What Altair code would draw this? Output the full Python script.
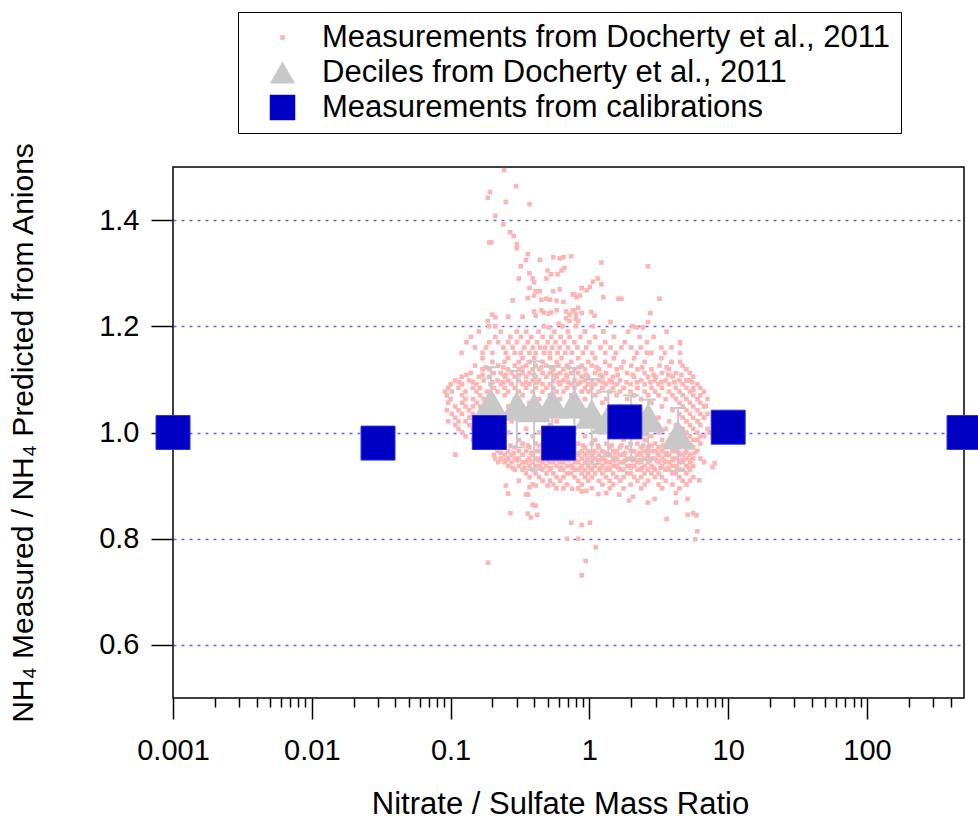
import altair as alt
import pandas as pd

# ---------------------------------------------------------------- data
SERIES = ["Measurements from Docherty et al., 2011",
          "Deciles from Docherty et al., 2011",
          "Measurements from calibrations"]

# calibration measurements (blue squares)
cal_ratio = [0.001, 0.03, 0.19, 0.6, 1.8, 10, 500]
cal_nh4 = [1.0, 0.98, 1.0, 0.98, 1.02, 1.01, 1.0]

# deciles (grey triangles) with their spread
dec_ratio = [0.195, 0.30, 0.40, 0.54, 0.78, 1.04, 1.37, 2.0, 2.65, 4.35]
dec_nh4 = [1.056, 1.05, 1.047, 1.054, 1.054, 1.035, 1.025, 1.02, 1.028, 0.996]
dec_lo = [0.972, 0.972, 0.93, 0.955, 0.96, 0.941, 0.955, 0.948, 0.948, 0.928]
dec_hi = [1.123, 1.116, 1.134, 1.125, 1.122, 1.10, 1.077, 1.07, 1.062, 1.046]

# Docherty et al. measurements: dense part read row by row (y, x values)
cloud_row_y = [1.19, 1.18, 1.17, 1.16, 1.15, 1.14, 1.133, 1.126, 1.1225, 1.119,
               1.112, 1.1085, 1.105, 1.098, 1.0945, 1.091, 1.084, 1.077, 1.07,
               1.063, 1.056, 1.049, 1.042, 1.035, 1.028, 1.021, 1.014, 1.007,
               1.0, 0.993, 0.986, 0.979, 0.9755, 0.972, 0.965, 0.9615, 0.958,
               0.951, 0.9475, 0.944, 0.937, 0.9335, 0.93, 0.923, 0.916, 0.909,
               0.902, 0.895]
cloud_row_x = [
    [0.16, 0.23, 0.30, 0.35, 0.43, 0.56, 0.70, 0.93, 1.26, 1.9, 3.6],
    [0.14, 0.21, 0.27, 0.32, 0.38, 0.46, 0.53, 0.62, 0.72, 0.86, 1.1, 1.5, 2.3, 2.9],
    [0.13, 0.19, 0.22, 0.26, 0.30, 0.36, 0.42, 0.50, 0.57, 0.66, 0.78, 1.0, 1.3, 1.8, 2.6, 4.5],
    [0.15, 0.18, 0.24, 0.28, 0.34, 0.39, 0.44, 0.48, 0.54, 0.61, 0.70, 0.82, 0.95, 1.2, 1.42, 1.7, 2.0, 2.35, 3.3, 3.9],
    [0.12, 0.17, 0.20, 0.25, 0.29, 0.32, 0.37, 0.41, 0.47, 0.52, 0.59, 0.67, 0.75, 0.90, 1.05, 1.3, 1.55, 2.2, 2.6, 2.8, 3.5, 4.5],
    [0.17, 0.26, 0.33, 0.40, 0.52, 0.63, 0.83, 1.1, 1.5, 2.1, 3.3],
    [0.20, 0.245, 0.31, 0.37, 0.46, 0.58, 0.74, 0.98, 1.3, 1.76, 2.5, 3.9, 4.5],
    [0.15, 0.22, 0.29, 0.35, 0.41, 0.49, 0.6, 0.69, 0.88, 1.04, 1.4, 2.0, 3.2, 4.7],
    [0.18, 0.24, 0.33, 0.45, 0.53, 0.71, 0.84, 1.13, 1.7, 2.4, 3.6],
    [0.17, 0.19, 0.26, 0.31, 0.39, 0.435, 0.55, 0.65, 0.78, 0.93, 1.17, 1.57, 2.22, 2.8, 3.75, 5.0],
    [0.14, 0.205, 0.23, 0.275, 0.33, 0.37, 0.46, 0.52, 0.615, 0.74, 0.83, 1.1, 1.32, 1.87, 2.5, 3.34, 4.2, 5.3],
    [0.13, 0.17, 0.25, 0.31, 0.4, 0.57, 0.68, 0.95, 1.2, 1.6, 2.05, 2.9, 3.7, 4.6],
    [0.12, 0.16, 0.19, 0.245, 0.29, 0.35, 0.41, 0.49, 0.58, 0.69, 0.88, 0.98, 1.24, 1.48, 2.1, 2.65, 3.0, 3.97, 5.6],
    [0.108, 0.136, 0.173, 0.218, 0.26, 0.31, 0.39, 0.435, 0.55, 0.65, 0.78, 0.93, 1.04, 1.17, 1.4, 1.66, 2.36, 2.97, 3.54, 4.45, 5.0, 5.3],
    [0.115, 0.145, 0.2, 0.24, 0.35, 0.42, 0.6, 0.7, 0.86, 1.25, 1.45, 1.85, 2.2, 2.75, 3.3, 4.1, 5.5],
    [0.1, 0.121, 0.154, 0.194, 0.23, 0.275, 0.33, 0.37, 0.46, 0.52, 0.615, 0.74, 0.83, 0.98, 1.1, 1.32, 1.57, 1.98, 2.5, 3.15, 3.75, 4.7, 6.0],
    [0.096, 0.114, 0.145, 0.163, 0.205, 0.245, 0.29, 0.35, 0.41, 0.49, 0.55, 0.69, 0.78, 0.93, 1.04, 1.24, 1.48, 1.76, 2.22, 2.8, 3.34, 4.2, 5.0, 5.6, 6.3],
    [0.091, 0.102, 0.128, 0.154, 0.183, 0.218, 0.26, 0.31, 0.39, 0.46, 0.58, 0.65, 0.88, 0.98, 1.17, 1.4, 1.66, 1.98, 2.5, 2.97, 3.75, 4.45, 5.3, 6.7],
    [0.094, 0.121, 0.163, 0.194, 0.245, 0.33, 0.52, 0.74, 1.1, 1.57, 2.1, 2.65, 3.15, 3.97, 4.7, 5.6, 6.3],
    [0.1, 0.128, 0.145, 0.173, 0.29, 0.435, 0.615, 0.93, 1.32, 1.87, 2.36, 3.54, 4.2, 5.0, 6.0, 7.1],
    [0.096, 0.121, 0.154, 0.183, 0.37, 0.83, 1.24, 2.8, 4.45, 5.3, 6.3],
    [0.108, 0.128, 0.145, 0.163, 0.26, 0.55, 1.04, 1.66, 3.34, 4.7, 5.6, 6.7],
    [0.094, 0.114, 0.136, 0.173, 0.46, 0.98, 2.1, 3.97, 5.0, 6.0],
    [0.102, 0.121, 0.145, 0.163, 0.31, 0.69, 1.4, 2.5, 4.45, 5.3, 6.3, 7.1],
    [0.108, 0.136, 0.154, 0.173, 0.41, 0.88, 1.76, 3.15, 4.7, 5.6, 6.7],
    [0.096, 0.114, 0.128, 0.163, 0.275, 0.58, 1.17, 2.22, 3.75, 5.0, 6.0],
    [0.108, 0.136, 0.154, 0.218, 0.52, 0.98, 1.98, 2.97, 4.2, 5.3, 6.3],
    [0.114, 0.145, 0.35, 0.78, 1.57, 2.65, 3.54, 4.7, 5.6, 7.1],
    [0.121, 0.26, 0.435, 0.69, 1.24, 2.36, 3.15, 4.45, 5.0, 6.0],
    [0.128, 0.154, 0.39, 0.93, 1.48, 2.1, 2.8, 3.97, 5.3, 6.3, 6.7],
    [0.145, 0.173, 0.31, 0.49, 0.74, 1.1, 1.76, 2.5, 3.34, 4.2, 5.6, 6.0],
    [0.163, 0.23, 0.33, 0.41, 0.55, 0.83, 1.04, 1.32, 1.98, 2.22, 2.97, 3.75, 4.7, 5.0, 6.3],
    [0.21, 0.27, 0.36, 0.44, 0.5, 0.62, 0.72, 0.9, 1.15, 1.45, 1.7, 2.45, 2.8, 3.4, 4.1, 5.4],
    [0.194, 0.245, 0.29, 0.37, 0.46, 0.52, 0.65, 0.78, 0.93, 1.17, 1.4, 1.66, 1.87, 2.36, 2.65, 3.15, 3.54, 4.45, 5.3, 5.6],
    [0.218, 0.26, 0.31, 0.35, 0.41, 0.435, 0.49, 0.58, 0.69, 0.74, 0.88, 0.98, 1.1, 1.24, 1.48, 1.57, 1.98, 2.1, 2.5, 2.8, 2.97, 3.34, 3.97, 4.2, 5.0, 6.0],
    [0.23, 0.285, 0.38, 0.46, 0.54, 0.64, 0.81, 0.96, 1.06, 1.3, 1.53, 1.8, 2.3, 2.6, 3.1, 3.6, 4.4, 4.9, 5.7],
    [0.108, 0.205, 0.245, 0.275, 0.33, 0.39, 0.46, 0.52, 0.55, 0.615, 0.65, 0.78, 0.83, 0.93, 1.04, 1.17, 1.32, 1.4, 1.66, 1.76, 2.22, 2.36, 2.65, 3.15, 3.54, 3.75, 4.45, 4.7, 5.3],
    [0.21, 0.23, 0.26, 0.29, 0.31, 0.37, 0.41, 0.435, 0.49, 0.58, 0.69, 0.74, 0.88, 0.98, 1.1, 1.24, 1.48, 1.57, 1.87, 1.98, 2.1, 2.5, 2.8, 2.97, 3.34, 3.97, 4.2, 5.0, 5.6, 6.3],
    [0.25, 0.3, 0.36, 0.43, 0.5, 0.6, 0.71, 0.8, 0.96, 1.15, 1.3, 1.52, 1.82, 2.05, 2.3, 2.75, 3.05, 3.45, 4.0, 4.6, 5.4],
    [0.22, 0.245, 0.275, 0.33, 0.35, 0.39, 0.46, 0.52, 0.55, 0.615, 0.65, 0.78, 0.83, 0.93, 1.04, 1.17, 1.32, 1.4, 1.66, 1.76, 2.22, 2.36, 2.65, 3.15, 3.54, 3.75, 4.45, 4.7, 5.3, 6.7],
    [0.26, 0.31, 0.37, 0.41, 0.435, 0.49, 0.58, 0.69, 0.74, 0.88, 0.98, 1.1, 1.24, 1.48, 1.57, 1.87, 1.98, 2.1, 2.5, 2.8, 3.34, 3.97, 4.2, 5.0, 5.6],
    [0.28, 0.34, 0.45, 0.53, 0.63, 0.76, 0.86, 1.02, 1.2, 1.37, 1.62, 2.0, 2.4, 2.9, 3.25, 3.7, 4.3, 5.2],
    [0.29, 0.33, 0.39, 0.46, 0.52, 0.615, 0.65, 0.78, 0.83, 0.93, 1.04, 1.17, 1.32, 1.4, 1.66, 1.76, 2.22, 2.36, 2.65, 2.97, 3.54, 3.75, 4.45, 4.7, 5.3],
    [0.35, 0.41, 0.49, 0.55, 0.69, 0.74, 0.88, 0.98, 1.1, 1.24, 1.48, 1.87, 1.98, 2.5, 2.8, 3.15, 3.97, 4.2, 5.0],
    [0.37, 0.435, 0.58, 0.65, 0.78, 0.93, 1.04, 1.32, 1.57, 1.76, 2.1, 2.36, 2.97, 3.34, 4.45, 5.6],
    [0.31, 0.46, 0.52, 0.615, 0.83, 0.98, 1.17, 1.4, 1.66, 2.22, 2.65, 3.54, 4.7, 5.3],
    [0.39, 0.55, 0.69, 0.88, 1.24, 1.48, 1.98, 2.5, 3.15, 3.97, 5.0],
    [0.58, 0.65, 0.83, 1.04, 1.4, 1.76, 2.36, 3.34, 4.45],
]

# Docherty et al. measurements: scattered points outside the dense part
sparse_pts = [
    (0.243, 1.494), (0.296, 1.464), (0.192, 1.453), (0.185, 1.442), (0.25, 1.434),
    (0.37, 1.43), (0.21, 1.408), (0.24, 1.392), (0.268, 1.377), (0.285, 1.37),
    (0.19, 1.358), (0.197, 1.358), (0.30, 1.355), (0.30, 1.347), (0.36, 1.336),
    (0.35, 1.325), (0.44, 1.325), (0.55, 1.33), (0.61, 1.328), (0.65, 1.33),
    (0.74, 1.332), (0.32, 1.313), (0.50, 1.305), (0.53, 1.298), (0.59, 1.298),
    (0.63, 1.305), (0.66, 1.31), (0.31, 1.29), (0.37, 1.30), (0.39, 1.29),
    (0.40, 1.283), (0.49, 1.29), (0.37, 1.272), (0.41, 1.266), (0.44, 1.266),
    (0.55, 1.266), (0.61, 1.27), (0.28, 1.249), (0.36, 1.253), (0.40, 1.258),
    (0.45, 1.25), (0.49, 1.252), (0.52, 1.25), (0.58, 1.248), (0.65, 1.246),
    (0.78, 1.26), (0.40, 1.228), (0.45, 1.23), (0.47, 1.226), (0.51, 1.224),
    (0.53, 1.226), (0.58, 1.23), (0.68, 1.228), (0.72, 1.222), (0.78, 1.23),
    (0.83, 1.235), (0.20, 1.222), (0.21, 1.217), (0.26, 1.218), (0.33, 1.218),
    (0.41, 1.22), (0.68, 1.215), (0.72, 1.21), (0.80, 1.214), (0.83, 1.21),
    (0.185, 1.21), (0.19, 1.2), (0.21, 1.2), (0.47, 1.2), (0.51, 1.198),
    (0.60, 1.205), (0.64, 1.2), (0.80, 1.2),
    (1.22, 1.32), (2.64, 1.313), (1.15, 1.29), (1.06, 1.284), (1.01, 1.274),
    (0.955, 1.268), (0.88, 1.272), (0.855, 1.258), (0.81, 1.255), (1.22, 1.279),
    (1.26, 1.255), (1.62, 1.252), (1.70, 1.252), (3.2, 1.252), (0.76, 1.26),
    (0.76, 1.23), (0.80, 1.222), (0.88, 1.225), (1.03, 1.227), (1.09, 1.22),
    (2.75, 1.225), (1.42, 1.208), (2.64, 1.208), (2.05, 1.2), (2.2, 1.198),
    (2.43, 1.198), (0.93, 1.19), (1.06, 1.2), (1.26, 1.19),
    (4.5, 1.168), (5.1, 1.098), (5.6, 1.08), (6.9, 1.05), (7.3, 1.0),
    (6.7, 0.945), (8.0, 0.942), (7.7, 0.935), (6.2, 0.91),
    (0.25, 0.90), (0.26, 0.885), (0.27, 0.848), (0.186, 0.755), (0.35, 0.883),
    (0.36, 0.883), (0.39, 0.864), (0.41, 0.862), (0.36, 0.847), (0.38, 0.84),
    (0.42, 0.845), (0.37, 0.897), (0.41, 0.90), (0.50, 0.90), (0.74, 0.83),
    (0.88, 0.826), (1.01, 0.83), (0.69, 0.80), (0.83, 0.80), (1.11, 0.784),
    (0.94, 0.758), (0.88, 0.731), (0.75, 0.894), (0.88, 0.889), (0.95, 0.89),
    (1.16, 0.884), (1.32, 0.886), (1.64, 0.883), (1.93, 0.872), (2.06, 0.879),
    (2.64, 0.868), (2.95, 0.875), (4.2, 0.886), (4.2, 0.868), (5.1, 0.875),
    (3.6, 0.837), (5.1, 0.845), (5.6, 0.848), (5.9, 0.844), (6.0, 0.814),
    (5.8, 0.799), (0.108, 0.958),
]

# axis tick values
x_major = [0.001, 0.01, 0.1, 1, 10, 100]
x_minor = [0.002, 0.003, 0.004, 0.005, 0.006, 0.007, 0.008, 0.009,
           0.02, 0.03, 0.04, 0.05, 0.06, 0.07, 0.08, 0.09,
           0.2, 0.3, 0.4, 0.5, 0.6, 0.7, 0.8, 0.9,
           2, 3, 4, 5, 6, 7, 8, 9,
           20, 30, 40, 50, 60, 70, 80, 90,
           200, 300, 400]
y_ticks = [0.6, 0.8, 1.0, 1.2, 1.4]

# ---------------------------------------------------------------- tables
cloud_x = [x for xs in cloud_row_x for x in xs] + [p[0] for p in sparse_pts]
cloud_y = [y for y, xs in zip(cloud_row_y, cloud_row_x) for _ in xs] + [p[1] for p in sparse_pts]
cloud = pd.DataFrame({"ratio": cloud_x, "nh4": cloud_y, "series": SERIES[0]})
dec = pd.DataFrame({"ratio": dec_ratio, "nh4": dec_nh4, "lo": dec_lo, "hi": dec_hi,
                    "series": SERIES[1]})
caps = pd.DataFrame({"ratio": dec_ratio + dec_ratio, "nh4": dec_lo + dec_hi})
cal = pd.DataFrame({"ratio": cal_ratio, "nh4": cal_nh4, "series": SERIES[2]})

# ---------------------------------------------------------------- styling
FONT = "Liberation Sans"
PINK = "#ffb4b4"
GRAY = "#c8c8c8"
BLUE = "#0000c4"
TINY = "M-0.18,-0.18L0.18,-0.18L0.18,0.18L-0.18,0.18Z"

xscale = alt.Scale(type="log", domain=[0.001, 500], nice=False)
yscale = alt.Scale(domain=[0.5, 1.5], nice=False, zero=False)
cscale = alt.Scale(domain=SERIES, range=[PINK, GRAY, BLUE])
sscale = alt.Scale(domain=SERIES, range=[TINY, "triangle-up", "square"])

major_axis = alt.Axis(
    values=x_major, format="~g", orient="bottom",
    tickSize=21, tickWidth=1.5, tickColor="black",
    labelFont=FONT, labelFontSize=29, labelColor="black", labelPadding=17,
    labelFlush=False, labelOverlap=False, domain=False, grid=False,
    title="Nitrate / Sulfate Mass Ratio", titleFont=FONT, titleFontSize=31,
    titleFontWeight="normal", titleColor="black", titlePadding=24, titleX=387)
minor_axis = alt.Axis(
    values=x_minor, orient="bottom", tickSize=9, tickWidth=1.5, tickColor="black",
    labels=False, domain=False, grid=False, title=None)
y_axis = alt.Axis(
    values=y_ticks, format=".1f", tickSize=22, tickWidth=1.5, tickColor="black",
    labelFont=FONT, labelFontSize=29, labelColor="black", labelPadding=12,
    domain=False, grid=True, gridColor="#6262ff", gridDash=[3, 5], gridWidth=1.6,
    title="NH\u2084 Measured / NH\u2084 Predicted from Anions", titleFont=FONT,
    titleFontSize=30, titleFontWeight="normal", titleColor="black", titlePadding=60)

legend = alt.Legend(
    title=None, orient="none", legendX=65, legendY=-155, direction="vertical",
    strokeColor="black", fillColor="white", padding=10, cornerRadius=0,
    labelFont=FONT, labelFontSize=31, labelColor="black", labelLimit=2000,
    symbolSize=650, symbolOffset=19, labelOffset=24, rowPadding=3,
    symbolStrokeWidth=0)

Y = alt.Y("nh4:Q", scale=yscale, axis=y_axis)
C = alt.Color("series:N", scale=cscale, legend=legend)
S = alt.Shape("series:N", scale=sscale, legend=legend)

pink = alt.Chart(cloud).mark_point(filled=True, size=650, opacity=1).encode(
    x=alt.X("ratio:Q", scale=xscale, axis=major_axis), y=Y, color=C, shape=S)

bars = alt.Chart(dec).mark_rule(color=GRAY, strokeWidth=2).encode(
    x=alt.X("ratio:Q", scale=xscale, axis=None),
    y=alt.Y("lo:Q", scale=yscale, axis=y_axis), y2="hi:Q")
cap = alt.Chart(caps).mark_tick(color=GRAY, orient="horizontal", size=16,
                                thickness=2, opacity=1).encode(
    x=alt.X("ratio:Q", scale=xscale, axis=None), y=Y)

tri = alt.Chart(dec).mark_point(filled=True, size=1156, opacity=1).encode(
    x=alt.X("ratio:Q", scale=xscale, axis=minor_axis), y=Y, color=C, shape=S)

sq = alt.Chart(cal).mark_point(filled=True, size=1156, opacity=1,
                               stroke="#2f2fe6", strokeWidth=1).encode(
    x=alt.X("ratio:Q", scale=xscale, axis=None), y=Y, color=C, shape=S)

chart = alt.layer(pink, bars, cap, tri, sq).resolve_axis(
    x="independent"
).properties(
    width=791, height=531,
    autosize=alt.AutoSizeParams(type="none"),
    padding={"left": 173, "top": 167, "right": 14, "bottom": 122},
).configure(font=FONT).configure_view(stroke="black", strokeWidth=1.5)

chart.save("out.html", embed_options={"renderer": "svg", "actions": False})
